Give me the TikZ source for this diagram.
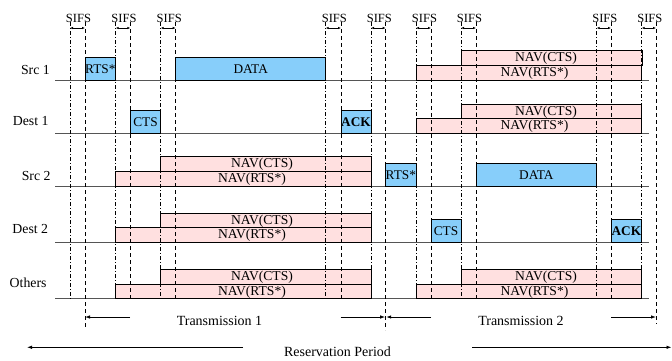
\documentclass[tikz,border=0pt]{standalone}
\usepackage{fontspec}
\setmainfont{Liberation Serif}
\usetikzlibrary{arrows.meta}
\definecolor{pktblue}{HTML}{87CEFA}
\definecolor{navpink}{HTML}{FFE0E0}
\definecolor{baseln}{HTML}{555555}
\newcommand{\pktbox}[6]{\node[pkt,#6,minimum width={#3pt-#2pt}] (#1) at (#2,#4) {#5};}
\newcommand{\navbox}[4]{\node[nav,minimum width={#3pt-#2pt}] (#1) at (#2,#4) {};}
\begin{document}
\begin{tikzpicture}[x=1pt,y=-1pt,
  pkt/.style={draw=black,fill=pktblue,line width=0.7pt,inner sep=0pt,outer sep=0pt,
    anchor=south west,minimum height=22.5pt,font=\fontsize{13.3}{15}\selectfont},
  nav/.style={draw=black,fill=navpink,line width=0.7pt,inner sep=0pt,outer sep=0pt,
    anchor=south west,minimum height=14.7pt},
  navtxt/.style={font=\fontsize{13.6}{15}\selectfont,inner sep=0pt},
  rowlbl/.style={font=\fontsize{13.8}{16}\selectfont,inner sep=0pt,anchor=base east},
  sifslbl/.style={font=\fontsize{12.5}{14}\selectfont,inner sep=0pt,anchor=base},
  botlbl/.style={font=\fontsize{14}{16}\selectfont,inner sep=0pt,anchor=base},
  vdashdot/.style={line width=0.7pt,dash pattern=on 4pt off 2pt on 1pt off 2pt},
  vdashed/.style={line width=0.7pt,dash pattern=on 4pt off 3pt},
  rowline/.style={line width=0.8pt,draw=baseln},
  sifsarr/.style={line width=0.6pt,{Latex[length=3pt,width=2.5pt]}-{Latex[length=3pt,width=2.5pt]}},
  durarr/.style={line width=0.8pt,-{Latex[length=5pt,width=3.5pt]}}
]
\useasboundingbox (0,0) rectangle (672,360);

% row labels
\node[rowlbl] (lsrc1) at (50,74.5) {Src 1};
\node[rowlbl] (ldst1) at (48.7,125.5) {Dest 1};
\node[rowlbl] (lsrc2) at (50.7,180.5) {Src 2};
\node[rowlbl] (ldst2) at (48.3,233.5) {Dest 2};
\node[rowlbl] (loth) at (46.7,287.5) {Others};

% row base lines
\foreach \r/\y in {r1/80,r2/133.3,r3/186,r4/242.3,r5/298.7}{
  \coordinate (\r a) at (55,\y);
  \coordinate (\r b) at (649,\y);
  \draw[rowline] (\r a) -- (\r b);
}

% NAV boxes
\navbox{s1cts}{461}{642}{65.3}
\navbox{s1rts}{416}{641}{80}
\navbox{d1cts}{461}{641}{118.6}
\navbox{d1rts}{416}{641}{133.3}
\navbox{s2cts}{160.7}{371}{171.3}
\navbox{s2rts}{115.7}{371}{186}
\navbox{d2cts}{160.7}{371}{227.6}
\navbox{d2rts}{115.7}{371}{242.3}
\navbox{o1cts}{160.7}{371}{284}
\navbox{o1rts}{115.7}{371}{298.7}
\navbox{o2cts}{461}{641}{284}
\navbox{o2rts}{416}{641}{298.7}

% NAV texts
\foreach \b/\y in {s1/58.5,d1/111.8,o2/277.2}{
  \node[navtxt] (\b ctstxt) at (546,\y) {NAV(CTS)};
  \node[navtxt] (\b rtstxt) at (534.5,\y+14.7) {NAV(RTS*)};
}
\foreach \b/\y in {s2/164.5,d2/220.8,o1/277.2}{
  \node[navtxt] (\b ctstxt) at (262,\y) {NAV(CTS)};
  \node[navtxt] (\b rtstxt) at (252,\y+14.7) {NAV(RTS*)};
}

% packet boxes
\pktbox{rts1}{85}{115.7}{80}{RTS*}{}
\pktbox{data1}{175.7}{325.7}{80}{DATA}{}
\pktbox{cts1}{130.3}{160.7}{133.3}{CTS}{}
\pktbox{ack1}{341}{371}{133.3}{\bfseries ACK}{}
\pktbox{rts2}{385.7}{416}{186}{RTS*}{}
\pktbox{data2}{476}{596.7}{186}{DATA}{}
\pktbox{cts2}{431}{461}{242.3}{CTS}{}
\pktbox{ack2}{611}{641.7}{242.3}{\bfseries ACK}{}

% vertical timing lines and SIFS marks
\foreach \i/\xa/\xb/\yb in {1/70/85/328,2/115.7/130.3/298.7,3/160.7/175.7/298.7,
    4/325.7/341/298.7,5/371/385.7/330,6/416/431/298.7,7/461/476/298.7,
    8/596.7/611/298.7,9/641.7/656/324}{
  \coordinate (a\i t) at (\xa,22);
  \coordinate (a\i b) at (\xa,298.7);
  \coordinate (b\i t) at (\xb,22);
  \coordinate (b\i b) at (\xb,\yb);
  \coordinate (a\i m) at (\xa,28);
  \coordinate (b\i m) at (\xb,28);
  \draw[vdashdot] (a\i t) -- (a\i b);
  \draw[vdashed] (b\i t) -- (b\i b);
  \draw[sifsarr] (a\i m) -- (b\i m);
  \node[sifslbl] (sifs\i) at ({(\xa+\xb)/2+1},22) {SIFS};
}

% transmission arrows
\coordinate (t1s) at (130,317);
\coordinate (t1e) at (85,317);
\coordinate (t2s) at (340.7,317);
\coordinate (t2e) at (385.2,317);
\coordinate (t3s) at (431,317);
\coordinate (t3e) at (386.2,317);
\coordinate (t4s) at (611,317);
\coordinate (t4e) at (656,317);
\draw[durarr] (t1s) -- (t1e);
\draw[durarr] (t2s) -- (t2e);
\draw[durarr] (t3s) -- (t3e);
\draw[durarr] (t4s) -- (t4e);
\node[botlbl] (tx1) at (219.5,325) {Transmission 1};
\node[botlbl] (tx2) at (521,325) {Transmission 2};

% reservation period
\coordinate (rp1s) at (243,347.3);
\coordinate (rp1e) at (27,347.3);
\coordinate (rp2s) at (472,347.3);
\coordinate (rp2e) at (671.5,347.3);
\draw[durarr] (rp1s) -- (rp1e);
\draw[durarr] (rp2s) -- (rp2e);
\node[botlbl] (resv) at (337.5,356.5) {Reservation Period};
\end{tikzpicture}
\end{document}
